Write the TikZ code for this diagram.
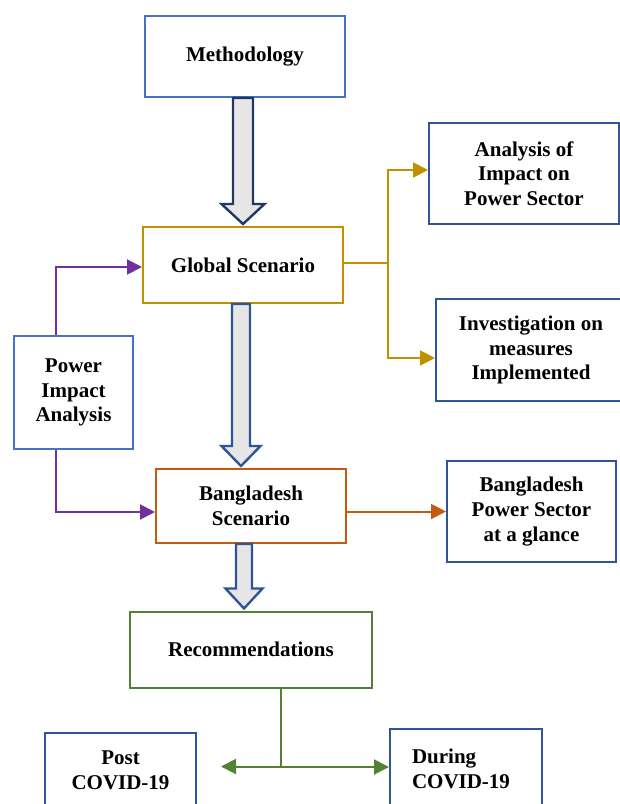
\documentclass[tikz,border=0pt]{standalone}
\usepackage{fontspec}
\setmainfont{Liberation Serif}
\usetikzlibrary{arrows.meta,calc,positioning}
\definecolor{boxblue}{RGB}{68,114,196}
\definecolor{boxnavy}{RGB}{47,85,151}
\definecolor{arrownavy}{RGB}{31,56,100}
\definecolor{boxgold}{RGB}{191,144,0}
\definecolor{boxorange}{RGB}{197,90,17}
\definecolor{boxgreen}{RGB}{84,130,53}
\definecolor{linkpurple}{RGB}{112,48,160}
\definecolor{arrowfill}{RGB}{230,230,230}
\tikzset{
  stagebox/.style={
    rectangle,
    draw,
    line width=1pt,
    fill=white,
    align=center,
    inner sep=3pt,
    font=\bfseries\fontsize{10.5}{12.3}\selectfont
  },
  linkarrow/.style={
    -{Triangle[length=7.5pt,width=7.5pt]},
    line width=1pt
  },
  fatarrow/.style={
    fill=arrowfill,
    line width=1.2pt,
    line join=miter
  }
}
% from, to, x offset, shaft half width, head half width, colour
\newcommand{\blockarrow}[6]{%
  \draw[fatarrow, draw=#6]
    ($(#1.south)+(#3-#4,0)$) -- ($(#2.north -| #1.south)+(#3-#4,-22)$)
    -- ($(#2.north -| #1.south)+(#3-#5,-22)$) -- ($(#2.north -| #1.south)+(#3,-2)$)
    -- ($(#2.north -| #1.south)+(#3+#5,-22)$) -- ($(#2.north -| #1.south)+(#3+#4,-22)$)
    -- ($(#1.south)+(#3+#4,0)$) -- cycle;}

\begin{document}
\begin{tikzpicture}[x=0.5pt, y=-0.5pt]
\useasboundingbox (0,0) rectangle (620,804);

\node[stagebox, draw=boxblue, minimum width=100pt, minimum height=40.5pt] (meth) at (245,56.5) {Methodology};
\node[stagebox, draw=boxgold, minimum width=100pt, minimum height=38pt] (glob) at (243,265) {Global Scenario};
\node[stagebox, draw=boxblue, minimum width=59.5pt, minimum height=56.5pt] (pia) at (73.5,392.5) {Power\\Impact\\Analysis};
\node[stagebox, draw=boxnavy, minimum width=95pt, minimum height=50.5pt] (anal) at (524,173.5) {Analysis of\\Impact on\\Power Sector};
\node[stagebox, draw=boxnavy, minimum width=95pt, minimum height=51pt] (inv) at (531,350) {Investigation on\\measures\\Implemented};
\node[stagebox, draw=boxorange, minimum width=95pt, minimum height=37pt] (bangl) at (251,506) {Bangladesh\\Scenario};
\node[stagebox, draw=boxnavy, minimum width=84.5pt, minimum height=50.5pt] (bps) at (531.5,511.5) {Bangladesh\\Power Sector\\at a glance};
\node[stagebox, draw=boxgreen, minimum width=121pt, minimum height=38pt] (rec) at (251,649.5) {Recommendations};
\node[stagebox, draw=boxnavy, minimum width=75.5pt, minimum height=37pt] (post) at (120.5,770) {Post\\COVID-19};
\node[stagebox, draw=boxnavy, align=left, text width=54pt, inner xsep=11pt, minimum height=40pt] (dur) at (466,769) {During\\COVID-19};

\blockarrow{meth}{glob}{-2}{10}{21.5}{arrownavy}
\blockarrow{glob}{bangl}{-2}{9}{19.5}{boxnavy}
\blockarrow{bangl}{rec}{-7}{8}{18.5}{boxnavy}

\coordinate (gsplit) at ($(glob.east)+(44,-2)$);
\draw[boxgold, line width=1pt] ([yshift=1pt]glob.east) -- (gsplit);
\draw[linkarrow, boxgold] (gsplit) |- ([yshift=1.75pt]anal.west);
\draw[linkarrow, boxgold] (gsplit) |- ([yshift=-4pt]inv.west);

\draw[linkarrow, linkpurple] ([xshift=-8.75pt]pia.north) |- ([yshift=-1pt]glob.west);
\draw[linkarrow, linkpurple] ([xshift=-8.75pt]pia.south) |- ([yshift=-3pt]bangl.west);

\draw[linkarrow, boxorange] (bps.west -| bangl.east) -- (bps.west);

\coordinate (rsplit) at ($(rec.south)+(30,78)$);
\coordinate (postend) at ($(post.east)+(24,-5)$);
\draw[boxgreen, line width=1pt] ([xshift=15pt]rec.south) -- (rsplit);
\draw[linkarrow, boxgreen] (rsplit) -- (rsplit -| postend);
\draw[linkarrow, boxgreen] (rsplit) |- ([yshift=1pt]dur.west);
\end{tikzpicture}
\end{document}
